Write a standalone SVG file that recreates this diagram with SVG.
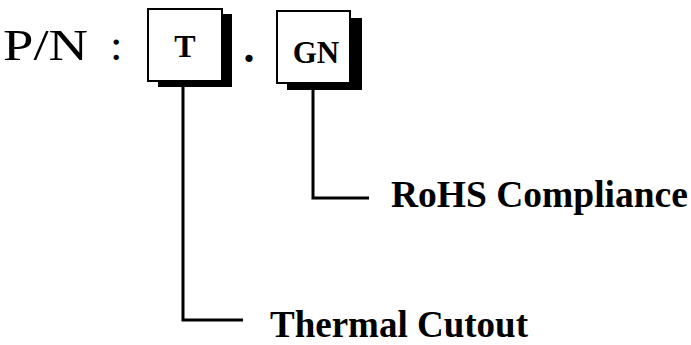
<svg xmlns="http://www.w3.org/2000/svg" width="691" height="345" viewBox="0 0 691 345">
<style>
.box{fill:#fff;stroke:#000;stroke-width:2}
.shadow{fill:#000}
.bt{font-family:"Liberation Serif","Times New Roman",serif;font-weight:bold;fill:#000}
.rt{font-family:"Liberation Serif","Times New Roman",serif;fill:#000}
.con{fill:none;stroke:#000;stroke-width:3}
</style>
<rect width="691" height="345" fill="#fff"/>
<g id="pn">
<text class="rt" x="3" y="60" font-size="45" textLength="85" lengthAdjust="spacingAndGlyphs">P/N</text>
<text class="rt" x="110" y="60" font-size="45">:</text>
</g>
<g id="node-T">
<rect class="shadow" x="158" y="14" width="74" height="73"/>
<rect class="box" x="148" y="9" width="74" height="72"/>
<text class="bt" x="185" y="57" font-size="32" text-anchor="middle">T</text>
</g>
<g id="dot">
<text class="bt" x="249" y="62" font-size="44" text-anchor="middle">.</text>
</g>
<g id="node-GN">
<rect class="shadow" x="287" y="18" width="75" height="72"/>
<rect class="box" x="277" y="11" width="73" height="72"/>
<text class="bt" x="316" y="63" font-size="31" text-anchor="middle">GN</text>
</g>
<g id="connectors">
<polyline class="con" points="183,82 183,320 243,320"/>
<polyline class="con" points="313,90 313,198 369,198"/>
</g>
<g id="label-rohs">
<text class="bt" x="391" y="207" font-size="37.5">RoHS Compliance</text>
</g>
<g id="label-thermal">
<text class="bt" x="270" y="337" font-size="37">Thermal Cutout</text>
</g>
</svg>
